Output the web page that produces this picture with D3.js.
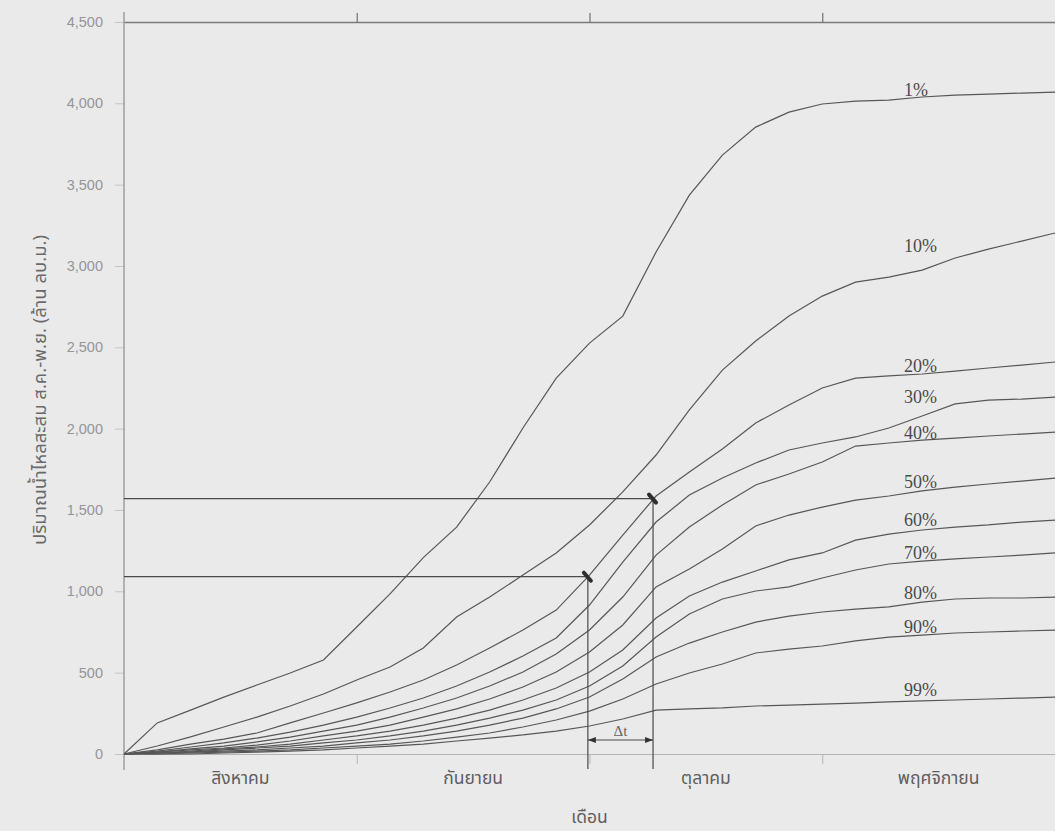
<!DOCTYPE html>
<html>
<head>
<meta charset="utf-8">
<script src="https://cdn.jsdelivr.net/npm/d3@7"></script>
<style>
  html, body { margin: 0; padding: 0; background: #eaeaea; }
  svg { display: block; }
</style>
</head>
<body>
<svg id="chart" width="1055" height="831"></svg>
<script>
// ---------- data ----------
const monthNames = ["สิงหาคม", "กันยายน", "ตุลาคม", "พฤศจิกายน"];
const yTicks = [0, 500, 1000, 1500, 2000, 2500, 3000, 3500, 4000, 4500];
const xPos = [0,0.143,0.286,0.429,0.571,0.714,0.857,1,1.143,1.286,1.429,1.571,1.714,1.857,2,2.143,2.286,2.429,2.571,2.714,2.857,3,3.143,3.286,3.429,3.571,3.714,3.857,4];

const seriesNames = ["1%", "10%", "20%", "30%", "40%", "50%", "60%", "70%", "80%", "90%", "99%"];
const p1  = [0,191,270,350,424,498,578,781,984,1207,1395,1672,2004,2311,2526,2692,3086,3436,3682,3854,3946,3996,4014,4020,4039,4051,4057,4063,4069];
const p10 = [0,49,105,166,227,295,369,455,535,652,842,965,1100,1236,1408,1611,1838,2115,2360,2539,2692,2815,2901,2932,2975,3049,3104,3153,3203];
const p20 = [0,25,61,92,129,191,252,314,381,455,547,652,762,885,1100,1346,1586,1733,1875,2035,2145,2250,2311,2324,2336,2354,2373,2391,2410];
const p30 = [0,18,43,68,98,135,178,227,283,344,418,504,602,713,916,1180,1426,1592,1697,1789,1869,1912,1949,2004,2078,2152,2176,2182,2194];
const p40 = [0,12,31,49,74,104,141,178,227,283,344,418,504,615,762,965,1223,1395,1531,1654,1721,1795,1893,1912,1930,1942,1955,1967,1979];
const p50 = [0,12,25,37,55,80,111,141,178,227,277,338,412,504,627,793,1027,1137,1260,1402,1469,1518,1561,1586,1617,1641,1660,1678,1696];
const p60 = [0,6,18,31,43,61,86,111,141,178,221,270,332,406,504,639,836,971,1057,1125,1193,1236,1315,1352,1377,1395,1408,1426,1438];
const p70 = [0,6,12,25,37,49,68,86,111,141,178,221,270,332,418,541,719,861,953,1002,1027,1082,1131,1168,1186,1199,1211,1223,1236];
const p80 = [0,6,12,18,25,37,49,68,86,111,141,178,221,277,350,461,596,682,750,811,848,873,891,904,934,953,959,959,965];
const p90 = [0,0,6,12,18,25,37,49,61,80,104,129,166,209,264,338,430,498,553,621,645,664,695,719,731,744,750,756,762];
const p99 = [0,0,0,6,12,18,25,37,49,61,80,98,117,141,172,215,270,277,283,295,301,307,313,320,326,332,338,344,350];
const seriesValues = [p1, p10, p20, p30, p40, p50, p60, p70, p80, p90, p99];

// annotation (Δt between reaching two volumes)
const markVolumes = [1090, 1570];
const markMonths = [1.993, 2.273];

// ---------- drawing ----------
const svg = d3.select("#chart");
const x = d3.scaleLinear().domain([0, 4]).range([124, 1055]);
const y = d3.scaleLinear().domain([0, 4500]).range([754, 22]);

const lineColor = "#575757";
const thaiFont = "'Noto Sans Thai','Loma','Garuda','Tlwg Typo','DejaVu Sans','Noto Sans',sans-serif";

// top border with ticks
const topAxis = svg.append("g").attr("transform", `translate(0,${y(4500)})`)
  .call(d3.axisTop(x).tickValues([1, 2, 3]).tickSize(9).tickSizeOuter(0).tickFormat(""));
topAxis.selectAll("path,line").attr("stroke", "#7a7a7a").attr("stroke-width", 1.3);

// bottom axis
const botAxis = svg.append("g").attr("transform", `translate(0,${y(0)})`)
  .call(d3.axisBottom(x).tickValues([1, 2, 3]).tickSize(10).tickSizeOuter(0).tickFormat(""));
botAxis.selectAll("path,line").attr("stroke", "#b5b5b5").attr("stroke-width", 1);

// y axis
const yAxis = svg.append("g").attr("transform", `translate(${x(0)},0)`)
  .call(d3.axisLeft(y).tickValues(yTicks).tickSize(9).tickSizeOuter(0).tickFormat(d3.format(",")));
yAxis.select(".domain").remove();
yAxis.selectAll("line").attr("stroke", "#c4c4c4");
yAxis.selectAll("text").attr("fill", "#959595").attr("font-size", 14.5)
  .attr("font-family", "'Liberation Sans',Arial,sans-serif").attr("x", -21);
svg.append("line").attr("x1", x(0)).attr("x2", x(0)).attr("y1", y(4500) - 10).attr("y2", y(0) + 16)
  .attr("stroke", "#8a8a8a").attr("stroke-width", 1.2);

// month labels
svg.append("g").selectAll("text").data(monthNames).join("text")
  .attr("x", (d, i) => x(i + 0.5)).attr("y", 784)
  .attr("text-anchor", "middle").attr("fill", "#5e5e5e")
  .attr("font-size", 17.5).attr("font-family", thaiFont).text(d => d);

// axis titles
svg.append("text").attr("x", x(2)).attr("y", 823).attr("text-anchor", "middle")
  .attr("fill", "#5e5e5e").attr("font-size", 17.5).attr("font-family", thaiFont).text("เดือน");
svg.append("text").attr("transform", `translate(46,390) rotate(-90)`)
  .attr("text-anchor", "middle").attr("fill", "#6a6a6a").attr("font-size", 18.5)
  .attr("font-family", thaiFont).text("ปริมาณน้ำไหลสะสม ส.ค.-พ.ย. (ล้าน ลบ.ม.)");

// curves
const line = d3.line().x((d, i) => x(xPos[i])).y(d => y(d));
svg.append("g").selectAll("path").data(seriesValues).join("path")
  .attr("d", line).attr("fill", "none").attr("stroke", lineColor).attr("stroke-width", 1.2);

// curve labels (placed above each curve near x ≈ 3.43 months)
const labelFs = 18;
const labelDy = [-8, -25, -9, -20, -8, -10, -11, -9, -10, -9, -12];
svg.append("g").selectAll("text").data(seriesNames).join("text")
  .attr("x", 904).attr("y", (d, i) => y(seriesValues[i][24]) + labelDy[i] + 0.5 + labelFs * 0.34)
  .attr("fill", "#4a4a4a").attr("font-size", labelFs)
  .attr("font-family", "'Liberation Serif','Times New Roman',serif").text(d => d);

// annotation lines
const ann = svg.append("g").attr("stroke", "#4a4a4a").attr("stroke-width", 1.2);
markVolumes.forEach((v, i) => {
  ann.append("line").attr("x1", x(0)).attr("x2", x(markMonths[i])).attr("y1", y(v)).attr("y2", y(v));
  ann.append("line").attr("x1", x(markMonths[i])).attr("x2", x(markMonths[i]))
    .attr("y1", y(v)).attr("y2", y(0) + 15);
  const cx = x(markMonths[i]), cy = y(v);
  svg.append("line").attr("x1", cx - 4).attr("y1", cy - 4).attr("x2", cx + 3).attr("y2", cy + 4)
    .attr("stroke", "#2e2e2e").attr("stroke-width", 4).attr("stroke-linecap", "round");
});

// Δt double arrow
const ax1 = x(markMonths[0]), ax2 = x(markMonths[1]), ay = 740;
svg.append("line").attr("x1", ax1).attr("x2", ax2).attr("y1", ay).attr("y2", ay)
  .attr("stroke", "#4a4a4a").attr("stroke-width", 1.1);
svg.append("path").attr("d", `M${ax1},${ay} L${ax1 + 8},${ay - 3} L${ax1 + 8},${ay + 3} Z`).attr("fill", "#333");
svg.append("path").attr("d", `M${ax2},${ay} L${ax2 - 8},${ay - 3} L${ax2 - 8},${ay + 3} Z`).attr("fill", "#333");
svg.append("text").attr("x", (ax1 + ax2) / 2).attr("y", ay - 4).attr("text-anchor", "middle")
  .attr("fill", "#666").attr("font-size", 15).attr("font-family", "'Liberation Serif',serif").text("Δt");
</script>
</body>
</html>
